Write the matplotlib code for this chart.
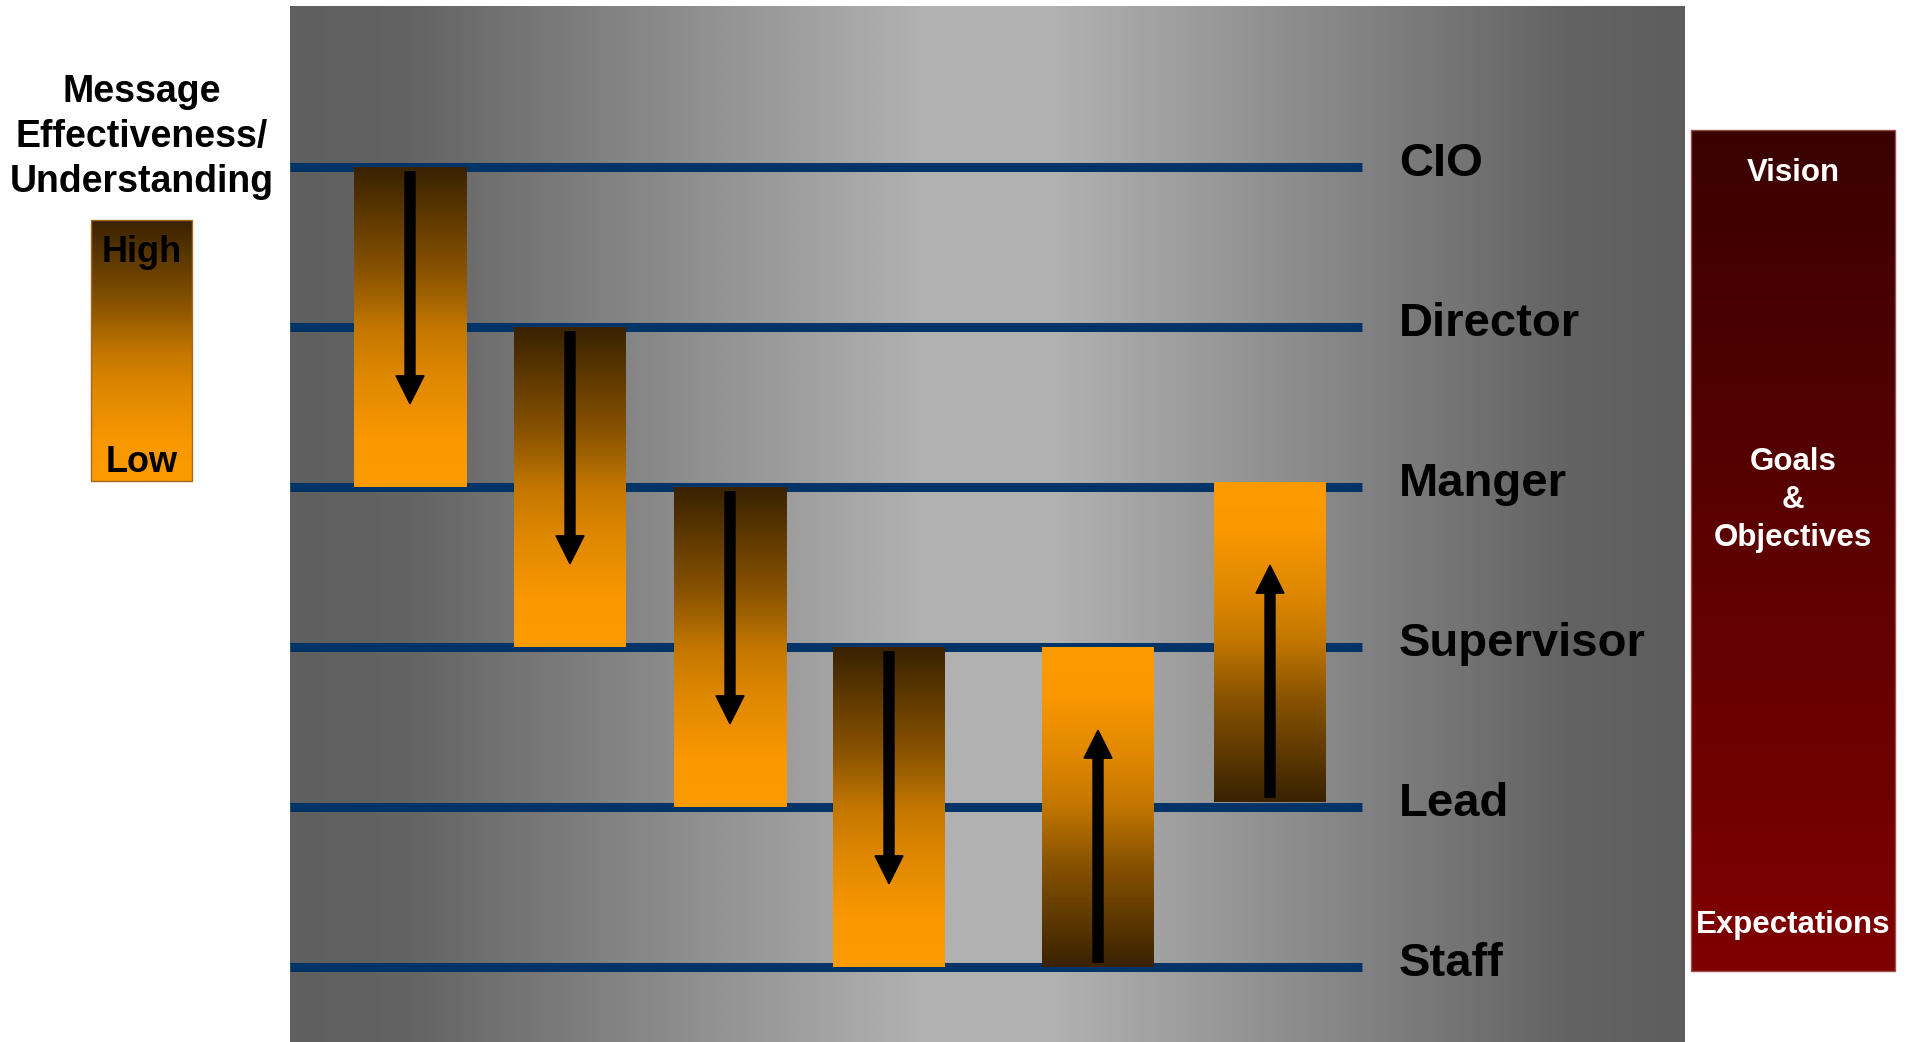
#!/usr/bin/env python3
import numpy as np
import matplotlib
matplotlib.use('Agg')
import matplotlib.pyplot as plt
from matplotlib.colors import LinearSegmentedColormap
from matplotlib.patches import Rectangle, FancyArrow

# data: organisation levels and how the message travels between them
roles = ['CIO', 'Director', 'Manger', 'Supervisor', 'Lead', 'Staff']
flow_from = [0, 1, 2, 3, 5, 4]
flow_to = [2, 3, 4, 5, 3, 2]

legend_title = 'Message\nEffectiveness/\nUnderstanding'
legend_labels = ['High', 'Low']
side_labels = ['Vision', 'Goals\n&\nObjectives', 'Expectations']

# layout (figure pixels, y measured from the top)
W, H = 1910, 1042
LINE0, STEP = 167, 160          # pixel row of level 0, pixels per level
col_x = [410, 570, 730, 889, 1098, 1270]
col_shift = [0, 0, 0, 0, 0, -5]  # last bar sits a little high
BAR_W = 112
FONT = 'Liberation Sans'


def lv(px):
    # pixel row -> level units
    return (px - LINE0) / STEP


bar_cmap = LinearSegmentedColormap.from_list('bar', [
    (0.0, (58/255, 34/255, 0)), (0.33, (138/255, 84/255, 0)),
    (0.5, (194/255, 118/255, 0)), (0.66, (224/255, 136/255, 0)),
    (0.85, (249/255, 152/255, 0)), (1.0, (252/255, 154/255, 0))])
bg_cmap = LinearSegmentedColormap.from_list('bg', [
    (0.0, '#5f5f5f'), (0.08, '#636363'), (0.45, '#b1b1b1'),
    (0.55, '#b1b1b1'), (0.92, '#636363'), (1.0, '#5e5e5e')])
red_cmap = LinearSegmentedColormap.from_list('red', ['#3a0000', '#800000'])

ramp = np.linspace(0, 1, 256)


def vgrad(ax, x0, x1, top, bottom, cmap, flip=False, z=2):
    img = ramp[::-1] if flip else ramp
    ax.imshow(img[:, None], cmap=cmap, vmin=0, vmax=1, origin='upper',
              extent=[x0, x1, bottom, top], aspect='auto',
              interpolation='bilinear', zorder=z)


def main():
    fig = plt.figure(figsize=(W / 100, H / 100), dpi=100)
    fig.patch.set_facecolor('white')
    ax = fig.add_axes([0, 0, 1, 1])
    ax.axis('off')

    # grey background panel
    ax.imshow(ramp[None, :], cmap=bg_cmap, vmin=0, vmax=1,
              extent=[290, 1684, lv(1042), lv(6)], aspect='auto',
              interpolation='bilinear', zorder=0)

    levels = np.arange(len(roles))
    ax.hlines(levels, 290, 1362, color='#003366', lw=6.5, zorder=1)
    for i, r in enumerate(roles):
        ax.text(1399, i + 9 / STEP, r, ha='left', va='baseline',
                fontsize=34, fontweight='bold', family=FONT, zorder=5)

    # message bars with arrows
    for x, dy, a, b in zip(col_x, col_shift, flow_from, flow_to):
        off = dy / STEP
        top, bot = min(a, b) + off, max(a, b) + off
        vgrad(ax, x - BAR_W / 2, x + BAR_W / 2, top, bot, bar_cmap,
              flip=(b < a), z=2)
        sgn = 1 if b > a else -1
        start = a + off + sgn * 0.03
        ax.add_patch(FancyArrow(x, start, 0, sgn * 1.45, width=10,
                                head_width=28, head_length=0.175,
                                length_includes_head=True, color='black',
                                zorder=3))

    # legend on the left
    ax.text(142, lv(137), legend_title, ha='center', va='center',
            fontsize=27, fontweight='bold', family=FONT, linespacing=1.32)
    vgrad(ax, 91, 192, lv(220), lv(481), bar_cmap, z=2)
    ax.add_patch(Rectangle((91, lv(220)), 101, lv(481) - lv(220),
                           fill=False, ec='#a06a20', lw=1, zorder=3))
    ax.text(142, lv(252), legend_labels[0], ha='center', va='center',
            fontsize=26, fontweight='bold', family=FONT, zorder=4)
    ax.text(142, lv(462), legend_labels[1], ha='center', va='center',
            fontsize=26, fontweight='bold', family=FONT, zorder=4)

    # right side panel
    vgrad(ax, 1691, 1895, lv(130), lv(971), red_cmap, z=2)
    ax.add_patch(Rectangle((1691, lv(130)), 204, lv(971) - lv(130),
                           fill=False, ec='#9a5050', lw=1, zorder=3))
    for lab, py in zip(side_labels, [173, 500, 925]):
        ax.text(1793, lv(py), lab, ha='center', va='center', color='white',
                fontsize=22.5, fontweight='bold', family=FONT,
                linespacing=1.35, zorder=4)

    ax.set_xlim(0, W)
    ax.set_ylim(lv(H), lv(0))
    fig.savefig('out.png', dpi=100, facecolor='white')


if __name__ == '__main__':
    main()
